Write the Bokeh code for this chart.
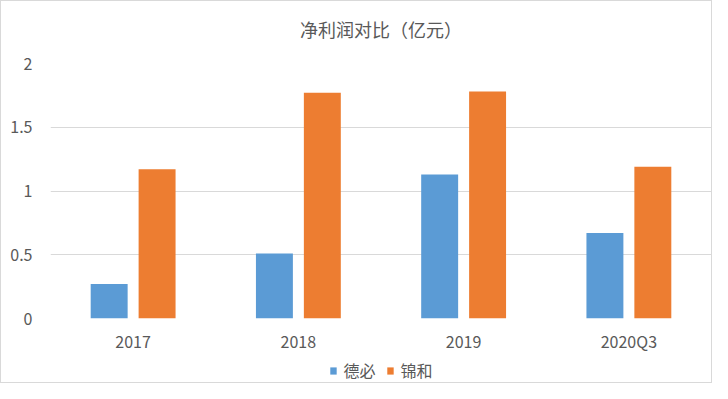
from bokeh.plotting import figure
from bokeh.layouts import column
from bokeh.models import ColumnDataSource, FactorRange, Range1d, Legend, LegendItem, Label
from bokeh.transform import dodge
from bokeh.embed import file_html
from bokeh.resources import INLINE

categories = ["2017", "2018", "2019", "2020Q3"]
debi = [0.27, 0.51, 1.13, 0.67]
jinhe = [1.17, 1.77, 1.78, 1.19]
series_names = ["德必", "锦和"]
title_text = "净利润对比（亿元）"
y_ticks = [0, 0.5, 1, 1.5, 2]
y_tick_labels = ["0", "0.5", "1", "1.5", "2"]

FONT = "Noto Sans CJK SC"
TXT = "#595959"
BLUE = "#5B9BD5"
ORANGE = "#ED7D31"

src = ColumnDataSource(dict(cat=categories, debi=debi, jinhe=jinhe))

# title row
pt = figure(width=710, height=44, x_range=Range1d(0, 1), y_range=Range1d(0, 1),
            output_backend="svg", toolbar_location=None, min_border=0, title=None)
pt.axis.visible = False
pt.grid.visible = False
pt.outline_line_color = None
pt.add_layout(Label(x=0.5, y=0.375, text=title_text, text_align="center",
                    text_baseline="middle", text_font=FONT, text_font_size="18px",
                    text_color=TXT))

# main chart
p = figure(width=710, height=310, x_range=FactorRange(*categories, range_padding=0),
           y_range=Range1d(0, 2), output_backend="svg", toolbar_location=None, title=None,
           min_border_left=49, min_border_right=0, min_border_top=18, min_border_bottom=36)

p.vbar(x=dodge("cat", -0.145, range=p.x_range), top="debi", width=0.2236,
       source=src, fill_color=BLUE, line_color=None)
p.vbar(x=dodge("cat", 0.145, range=p.x_range), top="jinhe", width=0.2236,
       source=src, fill_color=ORANGE, line_color=None)

p.outline_line_color = None
p.xgrid.grid_line_color = None
p.ygrid.grid_line_color = "#d9d9d9"
p.ygrid.grid_line_width = 1
p.yaxis.ticker = y_ticks
p.yaxis.major_label_overrides = dict(zip(y_ticks, y_tick_labels))

for ax in (p.xaxis[0], p.yaxis[0]):
    ax.axis_line_color = None
    ax.major_tick_line_color = None
    ax.minor_tick_line_color = None
    ax.major_tick_out = 0
    ax.major_tick_in = 0
    ax.major_label_text_font = FONT
    ax.major_label_text_font_size = "16px"
    ax.major_label_text_color = TXT
p.xaxis.major_label_standoff = 10
p.yaxis.major_label_standoff = 18

# legend row
pl = figure(width=710, height=27, x_range=Range1d(0, 1), y_range=Range1d(0, 1),
            output_backend="svg", toolbar_location=None, min_border=0, title=None)
pl.axis.visible = False
pl.grid.visible = False
pl.outline_line_color = None
d1 = pl.rect(x=[-5], y=[-5], width=0.1, height=0.1, fill_color=BLUE, line_color=None)
d2 = pl.rect(x=[-5], y=[-5], width=0.1, height=0.1, fill_color=ORANGE, line_color=None)
legend = Legend(items=[LegendItem(label=series_names[0], renderers=[d1]),
                       LegendItem(label=series_names[1], renderers=[d2])],
                orientation="horizontal", location="bottom_center",
                label_text_font=FONT, label_text_font_size="16px", label_text_color=TXT,
                glyph_width=8, glyph_height=9, label_standoff=7, spacing=10,
                padding=0, margin=0,
                border_line_color=None, background_fill_alpha=0)
pl.add_layout(legend)

layout = column(pt, p, pl, spacing=0)
layout.styles = {"border": "1px solid #d9d9d9"}
open("out.html", "w").write(file_html(layout, INLINE))
